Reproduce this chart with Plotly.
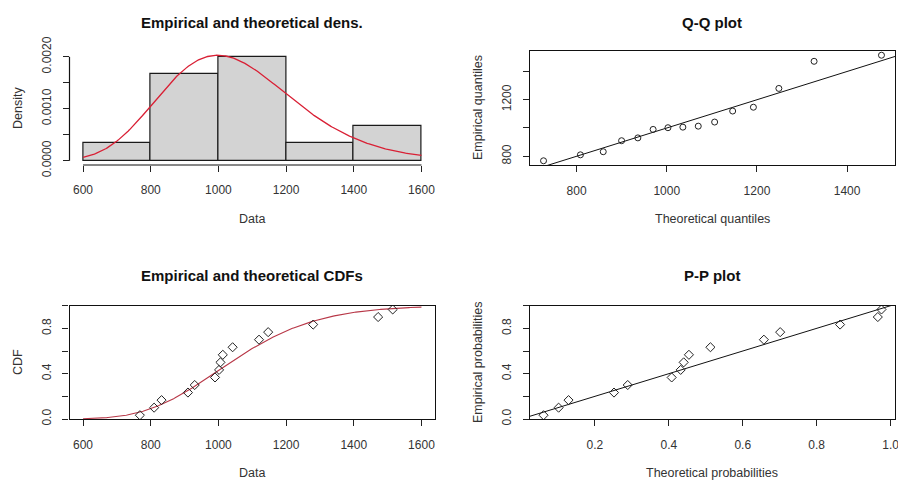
import numpy as np
import plotly.graph_objects as go
from math import erf, sqrt

# ---- data ----
data = [768, 810, 832, 910, 930, 990, 1002, 1006, 1013, 1042, 1120, 1147, 1280, 1472, 1515]
hist_breaks = [600, 800, 1000, 1200, 1400, 1600]

dens_xticks = [600, 800, 1000, 1200, 1400, 1600]
dens_yticks = [0.0, 0.0005, 0.0010, 0.0015, 0.0020]
dens_ylabels = ["0.0000", "", "0.0010", "", "0.0020"]
qq_xticks = [800, 1000, 1200, 1400]
qq_yticks = [800, 1000, 1200, 1400]
qq_ylabels = ["800", "", "1200", ""]
prob_yticks = [0.0, 0.2, 0.4, 0.6, 0.8, 1.0]
prob_ylabels = ["0.0", "", "0.4", "", "0.8", ""]
pp_xticks = [0.2, 0.4, 0.6, 0.8, 1.0]
pp_xlabels = ["0.2", "0.4", "0.6", "0.8", "1.0"]

# ---- lognormal fit (MLE, as fitdistrplus) ----
x = np.sort(np.array(data, dtype=float))
n = len(x)
lx = np.log(x)
meanlog = lx.mean()
sdlog = np.sqrt(((lx - meanlog) ** 2).mean())

def dlnorm(v):
    v = np.asarray(v, dtype=float)
    return np.exp(-(np.log(v) - meanlog) ** 2 / (2 * sdlog ** 2)) / (v * sdlog * np.sqrt(2 * np.pi))

def plnorm(v):
    return np.array([0.5 * (1 + erf((np.log(t) - meanlog) / (sdlog * sqrt(2)))) for t in np.atleast_1d(v)])

def qnorm(p):
    out = []
    for pp in p:
        lo, hi = -10.0, 10.0
        for _ in range(100):
            mid = (lo + hi) / 2
            if 0.5 * (1 + erf(mid / sqrt(2))) < pp:
                lo = mid
            else:
                hi = mid
        out.append((lo + hi) / 2)
    return np.array(out)

ppts = (np.arange(1, n + 1) - 0.5) / n
theo_q = np.exp(meanlog + sdlog * qnorm(ppts))
theo_p = plnorm(x)

def rr(lo, hi):
    d = 0.04 * (hi - lo)
    return [lo - d, hi + d]

grid = np.linspace(hist_breaks[0], hist_breaks[-1], 300)
counts, _ = np.histogram(x, bins=hist_breaks)
hist_dens = counts / (n * np.diff(hist_breaks))

# ---- layout geometry ----
W, H = 898, 483
def px2y(p):
    return 1 - p / H

LX = [69.5 / W, 435 / W]
RX = [530 / W, 895 / W]
TY = [px2y(165), px2y(51)]
BY = [px2y(419), px2y(305.7)]

fig = go.Figure()

red = "#d92035"
fig.add_trace(go.Histogram(x=x, xbins=dict(start=hist_breaks[0], end=hist_breaks[-1], size=hist_breaks[1] - hist_breaks[0]),
                           histnorm="probability density", marker=dict(color="#D3D3D3", line=dict(color="#1a1a1a", width=1.2)),
                           xaxis="x", yaxis="y", showlegend=False))
fig.add_trace(go.Scatter(x=grid, y=dlnorm(grid), mode="lines", line=dict(color=red, width=1.3),
                         xaxis="x", yaxis="y", showlegend=False))

qq_xr = rr(theo_q.min(), theo_q.max())
qq_yr = rr(x.min(), x.max())
fig.add_trace(go.Scatter(x=qq_xr, y=qq_xr, mode="lines", line=dict(color="#111", width=1),
                         xaxis="x2", yaxis="y2", showlegend=False))
fig.add_trace(go.Scatter(x=theo_q, y=x, mode="markers",
                         marker=dict(symbol="circle-open", size=6, color="#222", line=dict(width=1)),
                         xaxis="x2", yaxis="y2", showlegend=False))

cdf_xr = rr(hist_breaks[0], hist_breaks[-1])
fig.add_trace(go.Scatter(x=grid, y=plnorm(grid), mode="lines", line=dict(color="#b83848", width=1.1),
                         xaxis="x3", yaxis="y3", showlegend=False))
fig.add_trace(go.Scatter(x=x, y=ppts, mode="markers",
                         marker=dict(symbol="diamond-open", size=7, color="#222", line=dict(width=1)),
                         xaxis="x3", yaxis="y3", showlegend=False))

pp_xr = rr(theo_p.min(), theo_p.max())
fig.add_trace(go.Scatter(x=pp_xr, y=pp_xr, mode="lines", line=dict(color="#111", width=1),
                         xaxis="x4", yaxis="y4", showlegend=False))
fig.add_trace(go.Scatter(x=theo_p, y=ppts, mode="markers",
                         marker=dict(symbol="diamond-open", size=7, color="#222", line=dict(width=1)),
                         xaxis="x4", yaxis="y4", showlegend=False))

tickfont = dict(family="Liberation Sans, Arial, sans-serif", size=12, color="#333")
def xa(domain, rng, ticks, anchor, boxed=True, labels=None):
    d = dict(domain=domain, range=rng, tickvals=ticks, ticks="outside", ticklen=6, tickcolor="#222",
             showgrid=False, zeroline=False, showline=boxed, linecolor="#111", linewidth=1.2,
             mirror=boxed, tickfont=tickfont, anchor=anchor, ticklabelstandoff=8, automargin=False,
             ticklabeloverflow="allow")
    if labels is not None:
        d["ticktext"] = labels
    return d

def ya(domain, rng, ticks, labels, anchor, boxed=True):
    return dict(domain=domain, range=rng, tickvals=ticks, ticktext=labels, ticks="outside", ticklen=6,
                tickcolor="#222", showgrid=False, zeroline=False, showline=boxed, linecolor="#111",
                linewidth=1.2, mirror=boxed, tickfont=tickfont, tickangle=-90, anchor=anchor,
                ticklabelstandoff=7, automargin=False, ticklabeloverflow="allow")

dens_yr = rr(0, max(hist_dens.max(), dlnorm(grid).max()))
fig.update_layout(
    width=W, height=H, margin=dict(l=0, r=0, t=0, b=0, autoexpand=False),
    paper_bgcolor="white", plot_bgcolor="white", bargap=0,
    xaxis=xa(LX, rr(hist_breaks[0], hist_breaks[-1]), dens_xticks, "y", boxed=False),
    yaxis=ya(TY, dens_yr, dens_yticks, dens_ylabels, "x", boxed=False),
    xaxis2=xa(RX, qq_xr, qq_xticks, "y2"),
    yaxis2=ya(TY, qq_yr, qq_yticks, qq_ylabels, "x2"),
    xaxis3=xa(LX, cdf_xr, dens_xticks, "y3"),
    yaxis3=ya(BY, [0, 1], prob_yticks, prob_ylabels, "x3"),
    xaxis4=xa(RX, pp_xr, pp_xticks, "y4", labels=pp_xlabels),
    yaxis4=ya(BY, [0, 1], prob_yticks, prob_ylabels, "x4"),
)

fig.add_shape(type="line", xref="x", yref="paper", x0=min(dens_xticks), x1=max(dens_xticks),
              y0=TY[0], y1=TY[0], line=dict(color="#111", width=1.2))
fig.add_shape(type="line", xref="paper", yref="y", x0=LX[0], x1=LX[0],
              y0=min(dens_yticks), y1=max(dens_yticks), line=dict(color="#111", width=1.2))

titlefont = dict(family="Liberation Sans, Arial, sans-serif", size=15, color="#111")
labfont = dict(family="Liberation Sans, Arial, sans-serif", size=12.5, color="#333")
def ann(text, xp, yp, font, angle=0):
    fig.add_annotation(text=text, x=xp / W, y=px2y(yp), xref="paper", yref="paper", showarrow=False,
                       font=font, textangle=angle, xanchor="center", yanchor="middle")

lc = (LX[0] + LX[1]) / 2 * W
rc = (RX[0] + RX[1]) / 2 * W
ann("<b>Empirical and theoretical dens.</b>", lc, 22, titlefont)
ann("<b>Q-Q plot</b>", rc, 22, titlefont)
ann("<b>Empirical and theoretical CDFs</b>", lc, 275, titlefont)
ann("<b>P-P plot</b>", rc, 275, titlefont)
ann("Data", lc, 219, labfont)
ann("Theoretical quantiles", rc, 219, labfont)
ann("Data", lc, 473, labfont)
ann("Theoretical probabilities", rc, 473, labfont)
ann("Density", 18, 108, labfont, -90)
ann("Empirical quantiles", 478, 108, labfont, -90)
ann("CDF", 18, 362, labfont, -90)
ann("Empirical probabilities", 478, 362, labfont, -90)

fig.write_html("out.html", config={"displayModeBar": False},
               post_script="document.body.style.margin='0';document.body.style.overflow='hidden';")
